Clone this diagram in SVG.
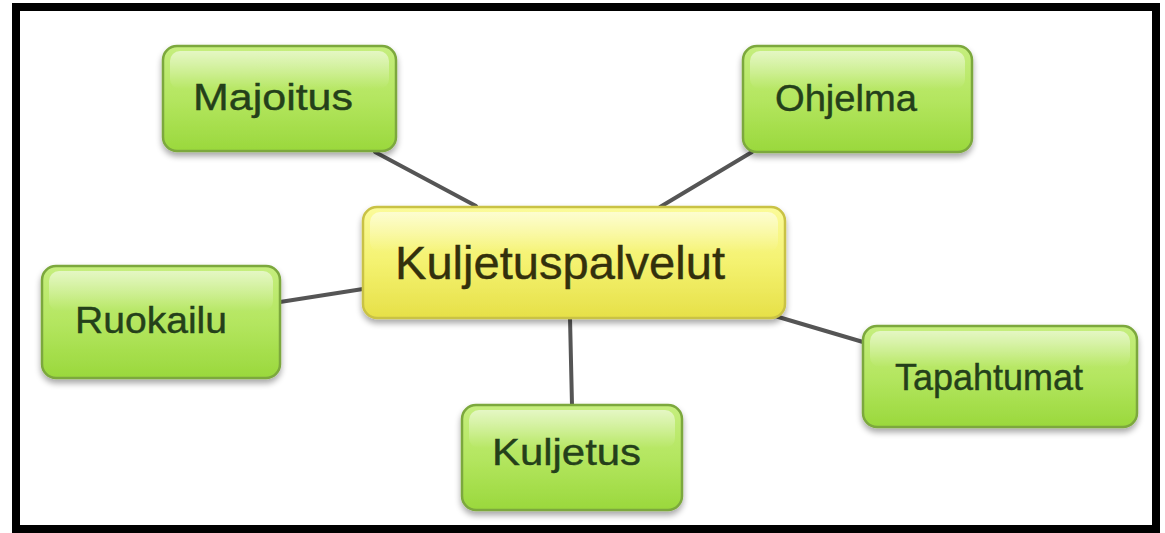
<svg xmlns="http://www.w3.org/2000/svg" width="1165" height="533" viewBox="0 0 1165 533">
<defs>
<linearGradient id="gGreen" x1="0" y1="0" x2="0" y2="1">
<stop offset="0" stop-color="#c6ee7e"/>
<stop offset="0.5" stop-color="#b4e660"/>
<stop offset="1" stop-color="#9ad83c"/>
</linearGradient>
<linearGradient id="gYellow" x1="0" y1="0" x2="0" y2="1">
<stop offset="0" stop-color="#fbfb9a"/>
<stop offset="0.5" stop-color="#f4f270"/>
<stop offset="1" stop-color="#e6e048"/>
</linearGradient>
<linearGradient id="gGloss" x1="0" y1="0" x2="0" y2="1">
<stop offset="0" stop-color="#ffffff" stop-opacity="0.55"/>
<stop offset="1" stop-color="#ffffff" stop-opacity="0"/>
</linearGradient>
<filter id="shadow" x="-10%" y="-10%" width="120%" height="130%">
<feGaussianBlur in="SourceAlpha" stdDeviation="3"/>
<feOffset dx="0" dy="4" result="b"/>
<feComponentTransfer><feFuncA type="linear" slope="0.35"/></feComponentTransfer>
<feMerge><feMergeNode/><feMergeNode in="SourceGraphic"/></feMerge>
</filter>
</defs>
<style>
.frame{fill:none;stroke:#000;stroke-width:8}
.edge{stroke:#555;stroke-width:4;stroke-linecap:round}
.leaf{fill:url(#gGreen);stroke:#7ba83c;stroke-width:2.5;filter:url(#shadow)}
.core{fill:url(#gYellow);stroke:#c9c244;stroke-width:2.5;filter:url(#shadow)}
.gloss{fill:url(#gGloss)}
.lt{font-family:"Liberation Sans",Arial,sans-serif;font-size:36px;fill:#24401a;stroke:#24401a;stroke-width:0.4}
.ct{font-family:"Liberation Sans",Arial,sans-serif;font-size:47px;fill:#33300c;stroke:#33300c;stroke-width:0.4}
</style>
<rect width="1165" height="533" fill="#ffffff"/>
<rect class="frame" x="16" y="7" width="1140" height="522"/>
<g id="connectors">
<line class="edge" x1="375" y1="152" x2="476" y2="206"/>
<line class="edge" x1="752" y1="152" x2="660" y2="207"/>
<line class="edge" x1="280" y1="302" x2="363" y2="289"/>
<line class="edge" x1="775" y1="316" x2="863" y2="342"/>
<line class="edge" x1="570" y1="318" x2="572" y2="405"/>
</g>
<g id="node-center">
<rect class="core" x="363" y="207" width="422" height="111" rx="14"/>
<rect class="gloss" x="370" y="212" width="408" height="40" rx="10"/>
<text class="ct" x="395" y="279" textLength="330" lengthAdjust="spacingAndGlyphs">Kuljetuspalvelut</text>
</g>
<g id="node-majoitus">
<rect class="leaf" x="163" y="46" width="233" height="105" rx="14"/>
<rect class="gloss" x="170" y="51" width="219" height="38" rx="10"/>
<text class="lt" x="193" y="110" textLength="160" lengthAdjust="spacingAndGlyphs">Majoitus</text>
</g>
<g id="node-ohjelma">
<rect class="leaf" x="743" y="46" width="229" height="106" rx="14"/>
<rect class="gloss" x="750" y="51" width="215" height="38" rx="10"/>
<text class="lt" x="775" y="111" textLength="142" lengthAdjust="spacingAndGlyphs">Ohjelma</text>
</g>
<g id="node-ruokailu">
<rect class="leaf" x="42" y="266" width="238" height="112" rx="14"/>
<rect class="gloss" x="49" y="271" width="224" height="40" rx="10"/>
<text class="lt" x="75" y="333" textLength="152" lengthAdjust="spacingAndGlyphs">Ruokailu</text>
</g>
<g id="node-tapahtumat">
<rect class="leaf" x="863" y="326" width="274" height="101" rx="14"/>
<rect class="gloss" x="870" y="331" width="260" height="36" rx="10"/>
<text class="lt" x="895" y="390" textLength="188" lengthAdjust="spacingAndGlyphs">Tapahtumat</text>
</g>
<g id="node-kuljetus">
<rect class="leaf" x="462" y="405" width="220" height="105" rx="14"/>
<rect class="gloss" x="469" y="410" width="206" height="38" rx="10"/>
<text class="lt" x="492" y="465" textLength="149" lengthAdjust="spacingAndGlyphs">Kuljetus</text>
</g>
</svg>
